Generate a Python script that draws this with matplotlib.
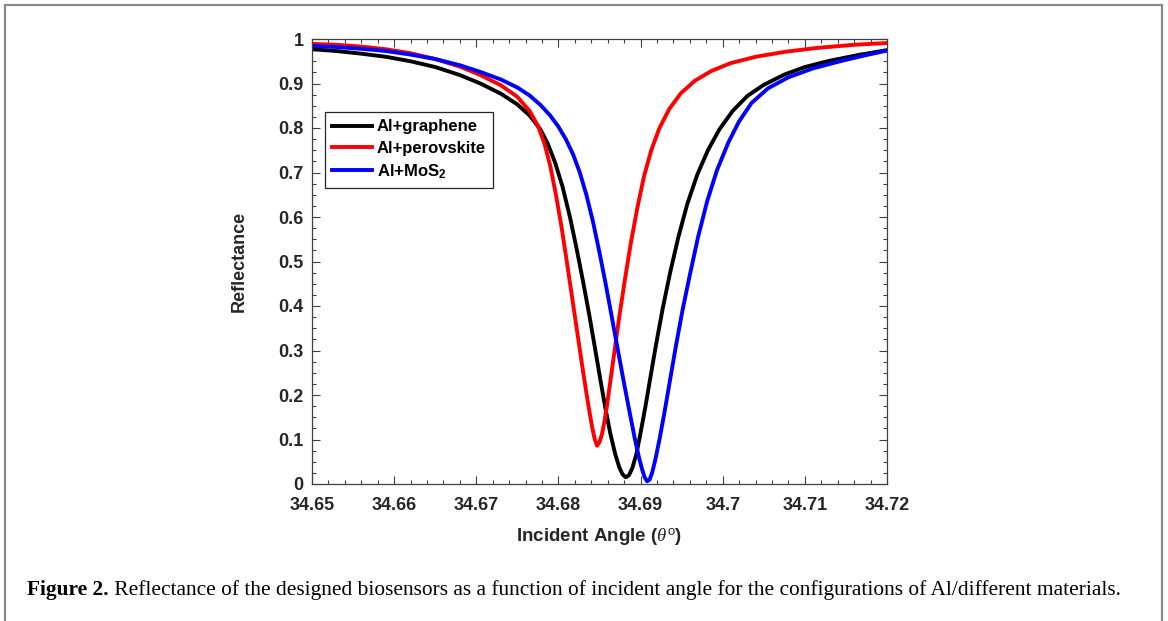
import numpy as np
import matplotlib.pyplot as plt
from matplotlib.patches import Rectangle
from matplotlib.ticker import MultipleLocator

# reflectance curves (angle in degrees, R)
graphene_angle = [34.650, 34.653, 34.656, 34.659, 34.662, 34.665, 34.668, 34.6705,
                  34.673, 34.675, 34.6765, 34.6778, 34.6787, 34.6796, 34.6805, 34.6814,
                  34.6822, 34.6830, 34.6838, 34.6845, 34.6851, 34.6857, 34.6863, 34.6869,
                  34.6874, 34.6878, 34.6882, 34.6886, 34.6890, 34.6895, 34.6900, 34.6906,
                  34.6912, 34.6919, 34.6927, 34.6936, 34.6946, 34.6957, 34.6969, 34.6982,
                  34.6996, 34.7012, 34.7030, 34.7050, 34.7075, 34.7100, 34.7130, 34.7165,
                  34.7200]
graphene_refl = [0.977, 0.973, 0.967, 0.960, 0.950, 0.937, 0.919, 0.900,
                 0.877, 0.853, 0.828, 0.797, 0.765, 0.722, 0.668, 0.600,
                 0.530, 0.455, 0.375, 0.300, 0.235, 0.172, 0.115, 0.068,
                 0.038, 0.022, 0.015, 0.020, 0.036, 0.068, 0.115, 0.175,
                 0.240, 0.315, 0.395, 0.475, 0.555, 0.630, 0.695, 0.750,
                 0.797, 0.838, 0.872, 0.897, 0.920, 0.937, 0.951, 0.964,
                 0.975]

perovskite_angle = [34.650, 34.653, 34.656, 34.659, 34.662, 34.665, 34.668, 34.6705,
                    34.673, 34.675, 34.6765, 34.6775, 34.6783, 34.6790, 34.6797, 34.6804,
                    34.6811, 34.6817, 34.6823, 34.6829, 34.6834, 34.6838, 34.6841, 34.6844,
                    34.6847, 34.6850, 34.6853, 34.6856, 34.6859, 34.6863, 34.6868, 34.6874,
                    34.6881, 34.6888, 34.6896, 34.6904, 34.6913, 34.6923, 34.6935, 34.6949,
                    34.6966, 34.6986, 34.7010, 34.7040, 34.7075, 34.7115, 34.7160, 34.7200]
perovskite_refl = [0.989, 0.987, 0.983, 0.977, 0.968, 0.955, 0.938, 0.919,
                   0.896, 0.870, 0.838, 0.805, 0.765, 0.715, 0.650, 0.575,
                   0.490, 0.415, 0.340, 0.265, 0.205, 0.160, 0.128, 0.102,
                   0.086, 0.094, 0.112, 0.140, 0.175, 0.228, 0.295, 0.375,
                   0.460, 0.540, 0.620, 0.690, 0.750, 0.800, 0.843, 0.878,
                   0.906, 0.928, 0.946, 0.960, 0.971, 0.980, 0.987, 0.991]

mos2_angle = [34.650, 34.653, 34.656, 34.659, 34.662, 34.665, 34.668, 34.6705,
              34.673, 34.675, 34.6765, 34.6778, 34.6790, 34.6800, 34.6809, 34.6818,
              34.6826, 34.6834, 34.6842, 34.6850, 34.6858, 34.6866, 34.6873, 34.6880,
              34.6887, 34.6893, 34.6898, 34.6902, 34.6905, 34.6908, 34.6911, 34.6914,
              34.6918, 34.6923, 34.6929, 34.6936, 34.6943, 34.6951, 34.6960, 34.6970,
              34.6981, 34.6993, 34.7007, 34.7020, 34.7035, 34.7055, 34.7080, 34.7110,
              34.7145, 34.7175, 34.7200]
mos2_refl = [0.984, 0.982, 0.978, 0.973, 0.965, 0.955, 0.941, 0.926,
             0.909, 0.891, 0.873, 0.852, 0.828, 0.803, 0.775, 0.740,
             0.700, 0.650, 0.590, 0.520, 0.445, 0.365, 0.295, 0.225,
             0.158, 0.102, 0.060, 0.032, 0.015, 0.006, 0.010, 0.025,
             0.055, 0.100, 0.160, 0.235, 0.310, 0.390, 0.470, 0.555,
             0.635, 0.705, 0.768, 0.815, 0.856, 0.889, 0.914, 0.934,
             0.951, 0.964, 0.974]

xtick_vals = [34.65, 34.66, 34.67, 34.68, 34.69, 34.70, 34.71, 34.72]
xtick_labels = ['34.65', '34.66', '34.67', '34.68', '34.69', '34.7', '34.71', '34.72']
ytick_vals = [0, 0.1, 0.2, 0.3, 0.4, 0.5, 0.6, 0.7, 0.8, 0.9, 1.0]
ytick_labels = ['0', '0.1', '0.2', '0.3', '0.4', '0.5', '0.6', '0.7', '0.8', '0.9', '1']

plt.rcParams['font.family'] = ['Liberation Sans', 'DejaVu Sans']
plt.rcParams['mathtext.fontset'] = 'custom'
plt.rcParams['mathtext.rm'] = 'Liberation Sans'
plt.rcParams['mathtext.it'] = 'Liberation Serif:italic'
plt.rcParams['mathtext.bf'] = 'Liberation Sans:bold'

fig = plt.figure(figsize=(11.68, 6.21), dpi=100)
ax = fig.add_axes([312 / 1168, 1 - 484 / 621, 575 / 1168, 445 / 621])

ax.plot(graphene_angle, graphene_refl, color='black', lw=2.8, label='Al+graphene',
        solid_joinstyle='round')
ax.plot(perovskite_angle, perovskite_refl, color='#ff0000', lw=2.8, label='Al+perovskite',
        solid_joinstyle='round')
ax.plot(mos2_angle, mos2_refl, color='#0000ff', lw=2.8, label=r'Al+MoS$_\mathbf{2}$',
        solid_joinstyle='round')

ax.set_xlim(34.65, 34.72)
ax.set_ylim(0, 1)
ax.set_xticks(xtick_vals, xtick_labels)
ax.set_yticks(ytick_vals, ytick_labels)
ax.xaxis.set_minor_locator(MultipleLocator(0.002))
ax.yaxis.set_minor_locator(MultipleLocator(0.025))
ax.tick_params(which='both', direction='in', top=True, right=True, color='#404040',
               labelcolor='#262626', width=0.8)
ax.tick_params(which='major', length=6, labelsize=13)
ax.tick_params(axis='x', which='major', pad=9.5)
ax.tick_params(axis='y', which='major', pad=6)
ax.tick_params(which='minor', length=3)
for lab in ax.get_xticklabels() + ax.get_yticklabels():
    lab.set_fontweight('bold')
for sp in ax.spines.values():
    sp.set_color('#404040')
    sp.set_linewidth(0.9)

ax.set_xlabel(r'Incident Angle ($\theta^{\mathrm{o}}$)', fontsize=13.5, fontweight='bold',
              color='#262626', labelpad=9)
ax.set_ylabel('Reflectance', fontsize=13, fontweight='bold', color='#262626', labelpad=22)

leg = ax.legend(loc='upper left', bbox_to_anchor=(0.0226, 0.836), borderaxespad=0,
                fancybox=False, edgecolor='#262626', framealpha=1,
                prop={'weight': 'bold', 'size': 12}, handlelength=2.4,
                handletextpad=0.25, labelspacing=0.38, borderpad=0.45)
leg.get_frame().set_linewidth(0.9)

# grey page frame round the figure, open at the bottom
fig.add_artist(Rectangle((5 / 1168, -0.05), 1157 / 1168, 1.05 - 5 / 621,
                         transform=fig.transFigure, fill=False,
                         edgecolor='#8a8a8a', lw=1.6, clip_on=False))

cap = fig.text(27 / 1168, 1 - 590 / 621, 'Figure 2.', fontsize=15.4, fontweight='bold',
               family='Liberation Serif', va='center')
ax.annotate(' Reflectance of the designed biosensors as a function of incident angle '
            'for the configurations of Al/different materials.',
            xy=(1, 0.5), xycoords=cap, va='center', fontsize=15.4,
            family='Liberation Serif', annotation_clip=False)

fig.savefig('out.png', dpi=100)
